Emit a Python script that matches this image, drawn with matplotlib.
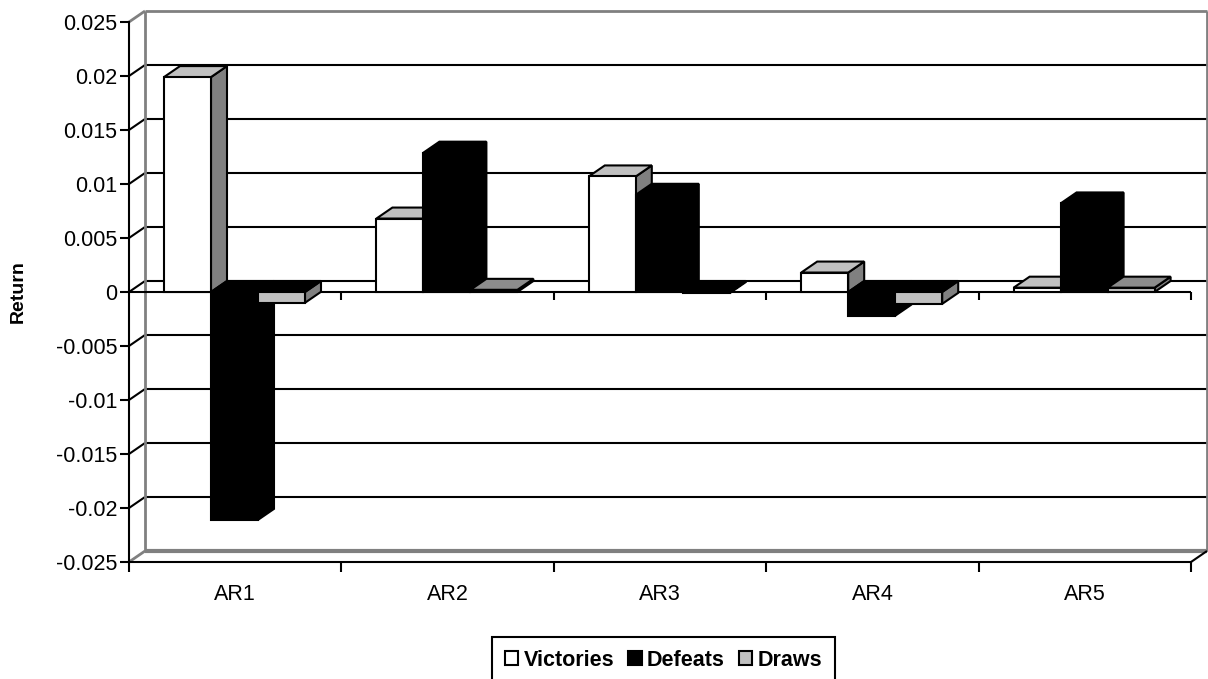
import numpy as np
import matplotlib
matplotlib.use("Agg")
import matplotlib.pyplot as plt
from matplotlib.patches import Polygon, Patch

plt.rcParams['font.family'] = ['Liberation Sans', 'DejaVu Sans']

categories = ["AR1", "AR2", "AR3", "AR4", "AR5"]
series_names = ["Victories", "Defeats", "Draws"]
victories = [0.0199, 0.0068, 0.0107, 0.0018, 0.0004]
defeats = [-0.0211, 0.0129, 0.0090, -0.0022, 0.0082]
draws = [-0.0010, 0.0002, -0.0001, -0.0011, 0.0004]
yticks = [-0.025, -0.02, -0.015, -0.01, -0.005, 0, 0.005, 0.01, 0.015, 0.02, 0.025]
ytick_labels = ["-0.025", "-0.02", "-0.015", "-0.01", "-0.005", "0",
                "0.005", "0.01", "0.015", "0.02", "0.025"]

front_col = ["white", "black", "#c0c0c0"]
top_col = ["#c0c0c0", "black", "#8c8c8c"]
side_col = ["#808080", "black", "#808080"]
GRAY = "#808080"
LW = 1.5

W, H = 1208, 679
fig = plt.figure(figsize=(W / 100, H / 100), dpi=100)
ax_l, ax_r, ax_t, ax_b = 129, 1191, 22, 562
ax = fig.add_axes([ax_l / W, 1 - ax_b / H, (ax_r - ax_l) / W, (ax_b - ax_t) / H])
ymin, ymax = -0.025, 0.025
ax.set_xlim(0, len(categories))
ax.set_ylim(ymin, ymax)

# depth of the fake 3d box, in data units
dx = 16 / (ax_r - ax_l) * len(categories)
dy = 11 / (ax_b - ax_t) * (ymax - ymin)
n = len(categories)


def line(xs, ys, color="black", lw=LW, z=1):
    ax.plot(xs, ys, color=color, lw=lw, clip_on=False, zorder=z,
            solid_capstyle="butt", solid_joinstyle="miter")


def poly(pts, fc, z):
    ax.add_patch(Polygon(pts, closed=True, fc=fc, ec="black", lw=LW,
                         joinstyle="miter", clip_on=False, zorder=z))


# back wall gridlines and side wall diagonals
for v in yticks[1:-1]:
    line([dx, n + dx], [v + dy, v + dy])
    line([0, dx], [v, v + dy])
# walls outline
line([dx, dx], [ymin + dy, ymax + dy], GRAY, 2)
line([dx, n + dx], [ymax + dy, ymax + dy], GRAY, 2)
line([n + dx, n + dx], [ymin + dy, ymax + dy], GRAY, 2)
line([dx, n + dx], [ymin + dy, ymin + dy], GRAY, 3)
line([0, dx], [ymax, ymax + dy], GRAY, 2)
line([0, dx], [ymin, ymin + dy], GRAY, 2)
line([n, n + dx], [ymin, ymin + dy], "black", LW)

# zero line with category ticks
line([0, n], [0, 0], z=2)
tick_len = 8 / (ax_b - ax_t) * (ymax - ymin)
for k in range(1, n + 1):
    line([k, k], [0, -tick_len], z=2)

# bars, painted left to right
bw = 47 / (ax_r - ax_l) * n
off = 35 / (ax_r - ax_l) * n
data = [victories, defeats, draws]
z = 3
for c in range(n):
    for s in range(3):
        v = data[s][c]
        x0 = c + off + s * bw
        x1 = x0 + bw
        if v >= 0:
            poly([(x1, 0), (x1 + dx, dy), (x1 + dx, v + dy), (x1, v)], side_col[s], z)
            poly([(x0, v), (x1, v), (x1 + dx, v + dy), (x0 + dx, v + dy)], top_col[s], z)
            poly([(x0, 0), (x1, 0), (x1, v), (x0, v)], front_col[s], z)
        else:
            poly([(x1, v), (x1 + dx, v + dy), (x1 + dx, dy), (x1, 0)], side_col[s], z)
            poly([(x0, 0), (x1, 0), (x1 + dx, dy), (x0 + dx, dy)], "black", z)
            poly([(x0, v), (x1, v), (x1, 0), (x0, 0)], front_col[s], z)
        z += 1

# axes
for sp in ["top", "right"]:
    ax.spines[sp].set_visible(False)
for sp in ["left", "bottom"]:
    ax.spines[sp].set_linewidth(LW)
    ax.spines[sp].set_color("black")
ax.set_yticks(yticks)
ax.set_yticklabels(ytick_labels)
ax.set_xticks(range(n + 1))
ax.set_xticklabels([])
ax.set_xticks(np.arange(n) + 0.5, minor=True)
ax.set_xticklabels(categories, minor=True)
ax.tick_params(axis="y", direction="out", length=6.5, width=LW, pad=2, labelsize=15.5)
ax.tick_params(axis="x", which="major", direction="out", length=7, width=LW)
ax.tick_params(axis="x", which="minor", length=0, pad=16, labelsize=15.5)

fig.text(18 / W, 1 - 292 / H, "Return", rotation=90, ha="center", va="center",
         fontsize=14, fontweight="bold")

handles = [Patch(fc=front_col[s] if s != 2 else "#c0c0c0", ec="black", lw=LW)
           for s in range(3)]
leg = fig.legend(handles, series_names, ncol=3, loc="upper left",
                 bbox_to_anchor=(492 / W, 1 - 637 / H), frameon=True, fancybox=False,
                 edgecolor="black", framealpha=1, borderaxespad=0, borderpad=0.6,
                 handlelength=0.62, handleheight=0.62, handletextpad=0.25,
                 columnspacing=0.65, prop={"size": 15.5, "weight": "bold"})
leg.get_frame().set_linewidth(LW)

fig.savefig("out.png", dpi=100)
